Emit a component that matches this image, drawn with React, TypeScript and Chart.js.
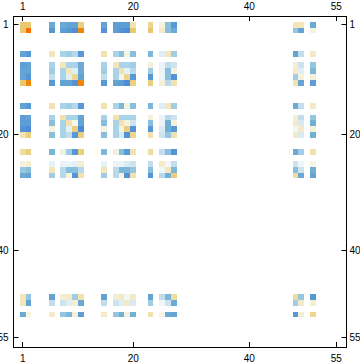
import React, { useEffect, useRef } from "react";
import { Chart, registerables } from "chart.js";

Chart.register(...registerables);

const activeIndices = [1, 2, 6, 8, 9, 10, 11, 15, 17, 18, 19, 20, 23, 25, 26, 27, 48, 49, 51];
const tickValues = [1, 20, 40, 55];

const row1 = [0.5, 0.5, -0.65, -0.65, -0.7, -0.7, 0.45, -0.7, -0.75, -0.75, -0.75, 0.3, 0.4, 0.1, -0.5, -0.8, 0.25, 0.25, -0.65];
const row2 = [0.5, 1, -0.8, -0.75, -0.8, -0.9, 0.8, -0.85, -0.75, -0.85, -0.95, 0.5, 0.5, 0.2, -0.5, -0.65, -0.45, -0.7, 0.1];
const row6 = [-0.7, -0.8, 0.25, -0.35, -0.4, -0.3, -0.8, 0.3, -0.35, -0.5, 0.1, -0.5, -0.55, -0.12, 0.25, -0.4, -0.7, -0.25, 0.2];
const row8 = [-0.75, -0.7, -0.35, 0.25, -0.35, -0.35, -0.65, -0.35, 0.25, -0.35, -0.35, -0.4, 0.12, -0.08, -0.25, -0.2, 0.15, -0.2, -0.45];
const row9 = [-0.7, -0.7, -0.4, -0.35, 0.25, -0.12, -0.65, -0.4, -0.35, 0.3, -0.1, -0.3, -0.4, -0.08, -0.5, 0.1, 0.2, -0.12, -0.55];
const row10 = [-0.7, -0.85, -0.25, -0.35, -0.12, 0.4, -0.7, -0.25, -0.35, 0.08, 0.4, -0.8, -0.8, -0.07, -0.5, -0.85, -0.4, 0.1, 0.12];
const row11 = [0.5, 0.8, -0.8, -0.7, -0.7, -0.85, 0.8, -0.8, -0.7, -0.75, -0.95, 0.45, 0.45, 0.12, -0.3, 0.3, 0.3, -0.7, -0.75];
const row15 = [-0.7, -0.8, 0.3, -0.35, -0.4, -0.3, -0.8, 0.3, -0.35, -0.55, 0.1, -0.5, -0.55, -0.12, 0.25, -0.4, -0.65, -0.25, 0.2];
const row17 = [-0.75, -0.7, -0.35, 0.3, -0.35, -0.35, -0.7, -0.35, 0.3, -0.35, -0.35, -0.35, 0.12, -0.08, -0.3, -0.2, 0.15, -0.25, -0.45];
const row18 = [-0.75, -0.75, -0.5, -0.35, 0.3, 0.08, -0.7, -0.5, -0.35, 0.3, 0.1, -0.2, -0.5, -0.08, -0.6, 0.12, 0.2, -0.15, -0.6];
const row19 = [-0.85, -0.95, 0.1, -0.35, -0.1, 0.45, -0.95, 0.1, -0.35, 0.1, 0.45, -0.85, -0.8, -0.15, -0.6, -0.8, -0.05, 0.2, 0.12];
const row20 = [0.3, 0.45, -0.5, -0.35, -0.25, -0.8, 0.45, -0.5, -0.35, -0.15, -0.85, 0.4, 0.3, -0.2, -0.45, 0.3, 0.2, -0.15, -0.6];
const row23 = [0.35, 0.45, -0.55, 0.12, -0.4, -0.8, 0.45, -0.55, 0.12, -0.5, -0.8, 0.3, 0.35, -0.25, -0.5, -0.85, -0.65, -0.4, 0.3];
const row25 = [0.1, 0.15, -0.1, -0.08, -0.08, -0.1, 0.15, -0.1, -0.08, -0.08, -0.15, -0.2, -0.25, 0.2, -0.05, -0.25, -0.2, -0.05, 0.08];
const row26 = [-0.45, -0.5, 0.25, -0.3, -0.5, -0.5, -0.3, 0.25, -0.3, -0.55, -0.55, -0.45, -0.5, -0.05, 0.25, -0.55, -0.5, -0.2, -0.6];
const row27 = [-0.65, -0.7, -0.4, -0.3, 0.1, -0.85, 0.3, -0.4, -0.3, 0.1, -0.85, 0.3, -0.85, -0.3, -0.6, 0.45, 0.35, -0.65, -0.7];
const row48 = [0.25, -0.45, -0.7, 0.15, 0.2, -0.4, 0.3, -0.7, 0.15, 0.2, -0.05, 0.2, -0.7, -0.25, -0.55, 0.35, 0.35, -0.45, -0.8];
const row49 = [0.25, -0.7, -0.25, -0.2, -0.12, 0.15, -0.65, -0.25, -0.2, -0.12, 0.2, -0.15, -0.4, -0.05, -0.2, -0.65, -0.4, 0.2, 0.15];
const row51 = [-0.65, 0.1, 0.2, -0.45, -0.55, 0.12, -0.75, 0.2, -0.45, -0.6, 0.12, -0.6, 0.3, 0.08, -0.65, -0.7, -0.8, 0.15, 0.4];

const matrixRows = [row1, row2, row6, row8, row9, row10, row11, row15, row17, row18, row19, row20, row23, row25, row26, row27, row48, row49, row51];

const colorStops: [number, number, number, number][] = [
  [-1, 70, 135, 220],
  [-0.8, 88, 152, 212],
  [-0.6, 112, 176, 212],
  [-0.4, 160, 205, 228],
  [-0.2, 205, 228, 240],
  [-0.05, 240, 247, 250],
  [0, 255, 255, 255],
  [0.1, 245, 242, 222],
  [0.3, 242, 226, 175],
  [0.5, 233, 200, 112],
  [0.8, 240, 135, 10],
  [1, 255, 110, 0],
];

function colorFor(v: number): string {
  for (let i = 1; i < colorStops.length; i++) {
    const a = colorStops[i - 1];
    const b = colorStops[i];
    if (v <= b[0]) {
      const t = (v - a[0]) / (b[0] - a[0]);
      const c = [1, 2, 3].map((k) => Math.round(a[k] + (b[k] - a[k]) * t));
      return `rgb(${c[0]},${c[1]},${c[2]})`;
    }
  }
  return "rgb(255,110,0)";
}

const cells: { x: number; y: number; v: number }[] = [];
matrixRows.forEach((vals, r) => {
  vals.forEach((v, c) => cells.push({ x: activeIndices[c], y: activeIndices[r], v }));
});

const tickFont = { family: "'Liberation Sans', sans-serif", size: 10 };

function axis(position: string, axisId: string, min: number, max: number, reverse: boolean, size: number, padding: number) {
  return {
    type: "linear",
    axis: axisId,
    position,
    min,
    max,
    reverse,
    afterBuildTicks: (s: any) => {
      s.ticks = tickValues.map((value) => ({ value }));
    },
    afterFit: (s: any) => {
      if (axisId === "x") s.height = size;
      else s.width = size;
    },
    border: { display: true, color: "#000", width: 1 },
    grid: { display: true, drawOnChartArea: false, drawTicks: true, tickLength: -5, color: "#000", lineWidth: 1 },
    ticks: {
      autoSkip: false,
      maxRotation: 0,
      minRotation: 0,
      color: "#000",
      font: tickFont,
      padding,
      callback: (v: any) => String(v),
    },
  };
}

const backgroundPlugin = {
  id: "pageWhite",
  beforeDraw: (chart: any) => {
    chart.ctx.save();
    chart.ctx.fillStyle = "#fff";
    chart.ctx.fillRect(0, 0, chart.width, chart.height);
    chart.ctx.restore();
  },
};

// Fills each matrix cell between its scale edges, snapped to whole pixels.
const matrixCellsPlugin = {
  id: "matrixCells",
  beforeDatasetsDraw: (chart: any) => {
    const { ctx, scales } = chart;
    chart.data.datasets[0].data.forEach((cell: any) => {
      const x0 = Math.floor(scales.x.getPixelForValue(cell.x - 0.5) + 0.35);
      const x1 = Math.floor(scales.x.getPixelForValue(cell.x + 0.5) + 0.35);
      const y0 = Math.floor(scales.y.getPixelForValue(cell.y - 0.5) + 0.41);
      const y1 = Math.floor(scales.y.getPixelForValue(cell.y + 0.5) + 0.41);
      ctx.fillStyle = colorFor(cell.v);
      ctx.fillRect(x0, y0, x1 - x0, y1 - y0);
    });
  },
};

export default function App() {
  const ref = useRef<HTMLCanvasElement>(null);
  useEffect(() => {
    const canvas = ref.current as HTMLCanvasElement;
    canvas.getContext("2d", { alpha: false });
    const chart = new Chart(canvas, {
      type: "scatter",
      data: {
        datasets: [
          {
            data: cells,
            xAxisID: "x",
            yAxisID: "y",
            pointRadius: 0,
          } as any,
        ],
      },
      options: {
        animation: false,
        responsive: false,
        layout: { padding: 0 },
        plugins: { legend: { display: false }, tooltip: { enabled: false } },
        scales: {
          x: axis("bottom", "x", -0.619, 56.745, false, 15.5, 11),
          y: axis("left", "y", -0.513, 56.58, true, 13.5, 10),
          xTop: axis("top", "x", -0.619, 56.745, false, 15.5, 8),
          yRight: axis("right", "y", -0.513, 56.58, true, 13.5, 8),
        } as any,
      },
      plugins: [backgroundPlugin, matrixCellsPlugin],
    });
    return () => chart.destroy();
  }, []);
  return (
    <div style={{ position: "absolute", left: 0, top: 0, width: 360, height: 363, background: "#fff" }}>
      <canvas ref={ref} width={360} height={363} style={{ display: "block" }} />
    </div>
  );
}
